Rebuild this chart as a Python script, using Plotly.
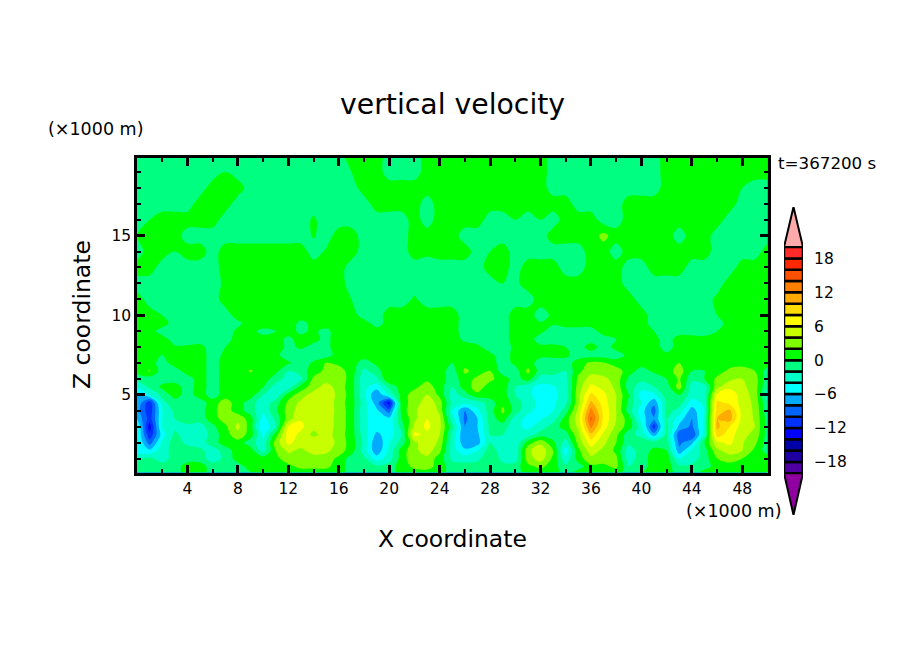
import plotly.graph_objects as go

# x coordinate and height in km (axes are labelled x1000 m)
x_km = list(range(51))
z_km = [0.125, 0.5, 1, 1.5, 2, 2.5, 3, 3.5, 4, 4.5, 5, 5.5, 6, 6.5, 7, 7.5, 8, 8.5, 9, 9.5,
        10, 11, 12, 13, 14, 15, 16, 17, 18, 19, 19.875]

# vertical velocity, bottom row first, one row per z_km
w_rows = [
    [-1,-1,-1,-1,1,1,-1,-1,-1,0, 1,1,1,1,1,1,1,-1,0,-1, -1,1,1,1,1,-1,-1,-1,-1,-1, -1,1,1,1,-1,1,1,1,1,-1, 0,1,1,-1,-1,1,1,1,1,1,1],
    [-1,-1,-1,-1,1,1,-1,-1,-1,1, 1,1,1.5,2.5,2.5,2.5,1,-1,-1,-1.5, -1,1,2.5,3,1,-1,-1,-1,-1,-1.5, -1,1.5,2.5,1,-1.5,-1,1.5,1.5,2.5,-2, -1,1,1,-1.5,-1.5,-1,1,1,1,1,1],
    [-2.5,-1.5,-3,-1,-1,-1,-3,-1.5,1,1, 1,1.5,3,3,3,3,1.5,-1,-1.5,-5, -3,1,3.5,3.5,1,-2.5,-3,-2.5,-0.5,-2.5, -3,3,5,1.5,-3.5,1,3.5,3,2.5,-3, -1,1,1,-4,-3,-1,2,3,2,1,1],
    [-5,-5.5,-3,-1,-1,-1.5,-3,-1,1,1, -3,2,4.5,3.5,5,4.5,3,1,-3,-7.5, -3.5,1,3.5,5,2.5,-3,-5.5,-4,-1,-3, -3.5,3.5,5.5,2,-5,1.5,5,3.5,1.5,-3, -1,0.5,0,-7.5,-3.5,-1,3.5,5,4,1.5,-1],
    [-3.5,-9,-3.5,-1,-2.5,-3,-1,1,1,-1, -3.5,3,6.5,5,5.5,5,3.5,1,-2.5,-7.9, -4,-1,3.5,5.5,3.5,-3,-7.5,-7,-2,-2.5, -3.5,1,3.5,0.5,-3,2.8,7,4.5,2,-1.5, -1,-1,-1,-8.5,-6.5,0,5.5,6.5,4.2,2.5,-1],
    [-3.5,-11.5,-5,-1.5,-3,-3.5,-1,1,3.5,1, -4.5,1,7,5.5,3.5,5,3,1,-3,-6.5, -5,-2,6.5,5.5,4,-2.5,-8,-6.5,-2,-2, -3.5,-3,-1,-1,-1,3.5,9.5,5.5,2.5,-1.5, -2.5,-7,-1.5,-9.5,-10,-3,9,7,4.5,3.5,-1],
    [-3.5,-13,-3.5,-2.5,-2.5,-3,-0.5,1.5,4.5,1, -6,-2,6.2,6.5,4.5,5,3.3,1,-3.5,-5, -5.5,-1,4.5,6.5,4.5,-1.5,-8,-6,-1.5,-1, -3.5,-4.5,-3,-1,1,4.5,12.5,7,3.5,1, -3,-11,-1.5,-6.5,-8.5,-3.5,10.5,8,5,4,-1],
    [-6,-11,-4,-2,-1,-1,1,3,3.5,1, -5,-1.5,3,5.8,5,5,3.3,1,-3.5,-5.5, -5.5,0,3.5,6,4.5,-3,-8.5,-6,-1,1, -3,-4.6,-4.2,-3,1,5,14.5,7.5,4,1, -5,-8,-2,-5,-8,-3.5,10,11,5.2,3.8,-1],
    [-7,-11.5,-4,-1.5,-1.5,-1,1.5,3,1,-1, -3.5,-0.5,3,5,5.5,5.3,3.3,1,-3.5,-5.5, -9,1,3.5,6,3.5,-4,-8,-4.5,-1,2.5, -1,-3.5,-4.8,-4,-1,4.5,12.8,7.5,4,-1, -5,-9,-1,-3,-7,-4,9,10.5,5.2,3.7,-1.5],
    [-6,-11.5,-2.5,-1,-1,-1,1,3,1,-1, -3.5,-1,2.5,4.5,5.5,5.5,3,1,-3,-7, -13,1.5,2.5,5.5,3,-2.5,-3.5,-3,-1,1.5, -1,-3,-4.6,-4.4,-2.5,3.5,10.5,7,4,-0.5, -4,-7.5,-1.5,-1,-5,-3.5,8.5,7.5,5.2,3.5,-2],
    [-6,-4,-1.5,1,-1,1,-1,1,1,1, -2,-3.5,1,3,5,5.2,3.5,1,-3.5,-8, -3.5,1,3,4,1.5,-3,-1,1.5,1,1, -2,-3.5,-5,-4.6,-3,3.5,8.5,6.5,4,0, -5,-4.5,-1,0,-3,-3,6.5,7.5,5,3.2,-3],
    [-4,-1.5,0.5,1,-1,1,-1,1,1,1, 0,-3,-3.2,1,3,5,3,1,-3.5,-5, -1.5,1,1.5,3,1,-2,1,3,1,1, -2,-3.5,-4.6,-4.2,-3,3,6.5,5.5,3.5,-1, -3,-2,-1,3,-3,-3,3.5,5.5,4.5,3,-2],
    [-1.5,-1,-1,-1,-1,1,-1,1,1,1, 1,-1,-3,-2.5,2.5,3,3.5,1,-3.5,-2.5, 2,1,1,1.5,1,-1,1,2.5,2.5,1, -1,1,-3,-3,-2.5,2.5,5,4.5,3.2,-0.5, -1.5,-1.5,0,2.3,-1.5,0,2.5,3.5,4,3,-1.5],
    [1,2.2,-1,-1,1,1,-1,1,1,2.2, 1,0.5,-2,-1,1,2.5,3,1,-2.5,-1, 2,0,1,1.5,1,-1,2.5,1,2,-1, -1,2.5,-1,-1,-2,1.5,3.2,3,3,1, -1,0.5,1,3,0,0,1,2.5,3.2,2,-1],
    [1,1,-1,1,1,1,-1,1,1,1, 1,1,0.3,-1,0.3,2.2,1.5,1,-1,0.5, 1,1,1,1,1,0,1,1,1,-1, 0.5,1,-1,-1,-1,1,2.5,2.2,1,1, 1,0.3,1,2,1,1,1,1,1,1,1],
    [1,1,0,1,1,1,-1,0.5,1,1, 1,0.5,-1,-1,-1,-1,1,1,1,1, 1,1,1,1,1,1,1,1,0.5,-1, 0.7,1,0.5,0.5,0.5,-1,-1,-1,-1,0.5, 0,1,0.5,1,1,1,1,0.5,1,1,1],
    [1,1,0.5,0.3,0.3,0.6,-1,0,1,1, 1,1,-0.5,0.3,-0.5,-0.5,1,0.5,1,1, 1,1,1,1,1,1,1,0.5,-1,-1, 0.5,1,0.5,0.5,0,-1,1,-1,0.7,1, 1,1,-1,1,1,1,1,1,1,1,1],
    [1,1,1,-1,-1,-1,-1,-1,1,1, 0.6,0.5,-0.3,0.5,0.5,-0.5,1,1,1,1, 1,1,1,1,1,1,-0.5,-1,-1,-1, 1,1,-1,-1,-1,-1,-1,-1,0,1, 1,0.7,-1,1,1,0.7,0.5,1,1,1,1],
    [1,1,-1,-1,-1,-1,-1,-1,0.5,0.5, -0.5,0,0.5,-0.3,0.3,-0.5,1,1,1,1, 0,1,1,1,1,1,-1,-1,-1,-1, 1,1,0.5,-1,-1,-1,-1,1,1,1, 1,0,-1,-1,-1,-1,0,1,1,1,1],
    [1,1,1,-1,-1,-1,-1,-1,-0.5,1, 1,1,1,-0.5,0.5,1,1,1,1,-1, 1,1,1,0.5,1,1,-1,-1,-1,-1, 1,0.5,0.2,0.3,1,1,1,1,1,1, 1,-1,-1,-1,-1,-1,-1,1,1,1,1],
    [1,1,0,-1,-1,-1,-1,-1,1,1, 1,1,1,1,1,1,1,1,-1,-1, 1,1,1,1,1,1,-1,-1,-1,-1, 1,1,-1,0.5,1,1,1,1,1,1, 1,-1,-1,-1,-1,-1,0,1,1,1,1],
    [1,-1,-1,-1,-1,-1,-1,1,1,1, 1,1,1,1,1,1,1,0,-1,-1, -1,-1,0.3,-1,-1,-1,-1,-1,-1,-1, -1,-1,1,1,1,1,1,1,1,1, -1,-1,-1,-1,-1,-1,0.5,1,1,1,1],
    [-1,-1,-1,-1,-1,-1,-1,0.5,1,1, 1,1,1,1,1,1,1,-1,-1,-1, -1,-1,-1,-1,-1,-1,-1,-1,-1,0, -0.5,1,1,1,1,1,1,1,1,-1, -1,-1,-1,-1,-1,-1,-1,1,1,1,1],
    [1,1,-1,-1,-1,-1,-1,1,1,1, 1,1,1,1,1,0.5,1,-1,-1,-1, -1,-1,-1,-1,-1,-1,-1,-1,1,1, -1,1,1,1,-1,-1,1,1,1,-1, -1,1,1,1,-1,-1,-1,-1,1,1,1],
    [-1,1,1,0,1,1,-1,1,1,1, 1,1,1,1,-1,0.3,0,1,-1,-1, -1,-1,1,0.5,1,1,1,-1,0,1, -1,-1,-1,-1,-1,-1,1,1,-1,1, 1,1,1,1,1,1,-1,-1,-1,-1,1],
    [0,1,1,1,-1,-1,-1,-1,-1,-1, -1,-1,-1,-1,0.2,-1,1,1,-1,0, -1,-1,1,1,1,1,-1,-1,-1,-1, -1,-1,-1,1,1,1,1,2.6,1,1, 1,1,1,-1,1,1,-1,-1,0,-1,-1],
    [-1,0,1,1,1,1,1,-1,-1,-1, -1,-1,-1,-1,0.3,-1,-1,-1,-1,-1, -1,-1,1,-1,1,1,1,1,-1,-1, 0,-1,0,-1,1,1,1,-1,-1,1, 1,1,1,1,1,1,1,-1,-1,-1,-1],
    [-1,-1,-1,-1,-1,1,1,1,-1,-1, -1,-1,-1,-1,-1,-1,-1,-1,-1,1, 1,1,1,-1,1,1,1,1,1,1, 1,1,1,1,1,-1,-1,-1,-1,1, 1,1,1,1,1,1,1,1,-1,-1,-1],
    [-1,-1,-1,-1,-1,-1,1,1,1,-1, -1,-1,-1,-1,-1,-1,-1,-1,1,1, 1,1,1,1,1,1,1,1,1,1, 1,1,1,-1,-1,-1,-1,-1,-1,-1, -1,-1,1,1,1,1,1,1,0,-1,-1],
    [-1,-1,-1,-1,-1,-1,-1,0,-1,-1, -1,-1,-1,-1,-1,-1,-1,0,1,1, -1,-1,-1,1,1,1,1,1,1,1, 1,1,1,-1,-1,-1,-1,-1,-1,-1, -1,-1,1,1,1,1,1,1,1,1,1],
    [-1,-1,-1,-1,-1,-1,-1,-1,-1,-1, -1,-1,-1,-1,-1,-1,-1,1,1,1, -1,-1,-1,1,1,1,1,1,1,1, 1,1,1,-1,-1,-1,-1,-1,-1,-1, -1,-1,1,1,1,1,1,1,1,1,1],
]

# contour levels and the colour of the band above each level
levels = list(range(-20, 20, 2))
band_colors = ['#5000a0', '#1e00a0', '#0000a8', '#0000ff', '#0032ff', '#0064ff', '#00aaff',
               '#00ffff', '#00ffc8', '#00ff80', '#00ff00', '#80ff00', '#c8ff00', '#ffff00',
               '#ffdc00', '#ffaa00', '#ff8000', '#ff5000', '#ff2800', '#ff2a2a']
over_color = '#ffaaaa'
under_color = '#9000a0'

x_ticks = [4, 8, 12, 16, 20, 24, 28, 32, 36, 40, 44, 48]
z_ticks = [5, 10, 15]
bar_ticks = [-18, -12, -6, 0, 6, 12, 18]

# the page has an 8 px body margin, so the figure is 16 px smaller than the window
W = 888
H = 638
PAGE = 8
FONT = 'DejaVu Sans'


def fx(px):
    return (px - PAGE) / W


def fy(py):
    return 1 - (py - PAGE) / H


colorscale = []
for i, c in enumerate(band_colors):
    colorscale.append([i / len(band_colors), c])
    colorscale.append([(i + 1) / len(band_colors), c])

fig = go.Figure()

fig.add_trace(go.Contour(
    x=x_km, y=z_km, z=w_rows,
    zmin=-20, zmax=20,
    colorscale=colorscale,
    contours=dict(start=-20, end=20, size=2, coloring='fill', showlines=False),
    line=dict(width=0),
    showscale=False,
    hoverinfo='skip',
))

# colour bar: one boxed bar per level, arrow heads at both ends
fig.add_trace(go.Bar(
    x=[0] * len(levels), y=[2] * len(levels), base=levels, width=1,
    marker=dict(color=band_colors, line=dict(color='black', width=2.5)),
    xaxis='x2', yaxis='y2', hoverinfo='skip', showlegend=False,
))
for end, tip, color in [(20, 27.1, over_color), (-20, -27.4, under_color)]:
    fig.add_trace(go.Scatter(
        x=[-0.5, 0, 0.5, -0.5], y=[end, tip, end, end],
        mode='lines', fill='toself', fillcolor=color,
        line=dict(color='black', width=2),
        xaxis='x2', yaxis='y2', hoverinfo='skip', showlegend=False,
    ))


def label(text, px, py, size, angle=0):
    fig.add_annotation(text=text, x=fx(px), y=fy(py), xref='paper', yref='paper',
                       showarrow=False, textangle=angle, xanchor='center', yanchor='middle',
                       font=dict(family=FONT, size=size, color='black'))


label('vertical velocity', 452, 104, 28.3)
label('(×1000 m)', 95, 129, 17.5)
label('(×1000 m)', 733, 511, 17.5)
label('t=367200 s', 827, 163, 16.7)
label('X coordinate', 452, 539, 23.5)
label('Z coordinate', 82, 315, 23.5, angle=-90)

axis_style = dict(showgrid=False, zeroline=False, showline=True, linecolor='black', linewidth=2.5,
                  mirror='allticks', ticks='inside', ticklen=8, tickwidth=2.5, tickcolor='black',
                  tickfont=dict(family=FONT, size=15.5, color='black'))

fig.update_layout(
    width=W, height=H,
    margin=dict(l=0, r=0, t=0, b=0),
    paper_bgcolor='white', plot_bgcolor='white',
    showlegend=False,
    xaxis=dict(domain=[fx(137), fx(767.5)], range=[0, 50], tickmode='array', tickvals=x_ticks,
               minor=dict(dtick=2, ticks='inside', ticklen=4, tickwidth=1.5, tickcolor='black'),
               **axis_style),
    yaxis=dict(domain=[fy(472.5), fy(158)], range=[0.125, 19.875], tickmode='array', tickvals=z_ticks,
               minor=dict(dtick=1, ticks='inside', ticklen=4, tickwidth=1.5, tickcolor='black'),
               **axis_style),
    xaxis2=dict(domain=[fx(784), fx(803)], range=[-0.5, 0.5], anchor='y2', visible=False),
    yaxis2=dict(domain=[fy(515), fy(207)], range=[-27.4, 27.1], anchor='x2', side='right',
                showgrid=False, zeroline=False, showline=False,
                ticks='outside', ticklen=7, tickcolor='rgba(0,0,0,0)',
                tickmode='array', tickvals=bar_ticks,
                tickfont=dict(family=FONT, size=15.5, color='black')),
)

fig.write_html("out.html")
